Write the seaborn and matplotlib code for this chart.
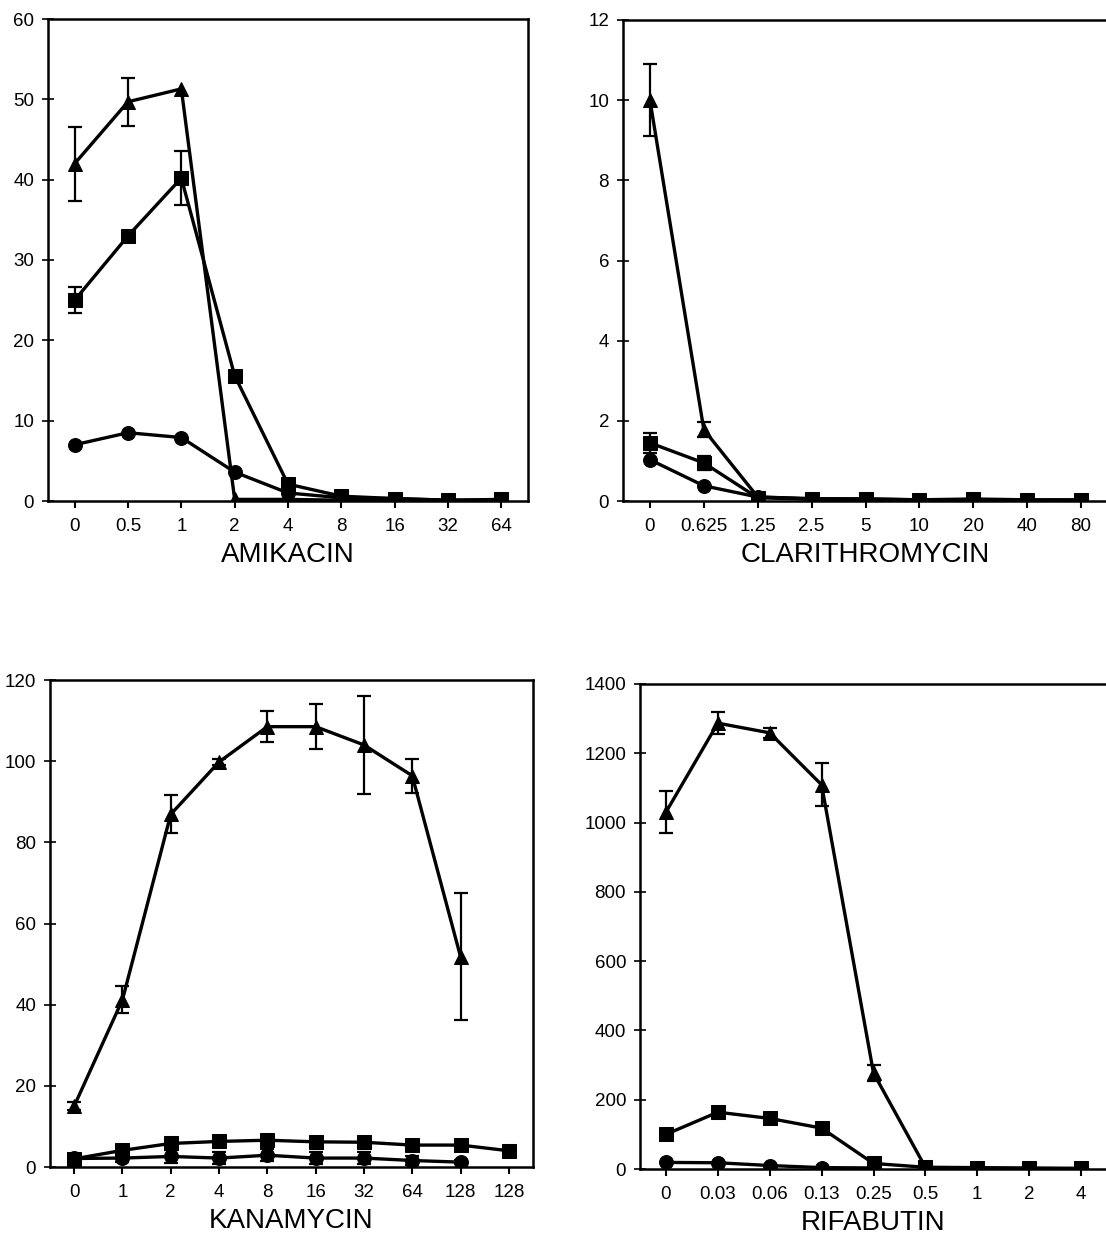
import numpy as np
import pandas as pd
import matplotlib.pyplot as plt
import seaborn as sns

# --- data ---
amikacin_doses = ["0", "0.5", "1", "2", "4", "8", "16", "32", "64"]
amikacin_tri = [42.0, 49.7, 51.3, 0.2, 0.2, 0.1, 0.1, 0.05, 0.05]
amikacin_tri_err = [4.6, 3.0, 0, 0, 0, 0, 0, 0, 0]
amikacin_sq = [25.0, 33.0, 40.2, 15.6, 2.1, 0.6, 0.3, 0.1, 0.2]
amikacin_sq_err = [1.6, 0.6, 3.4, 0, 0, 0, 0, 0, 0]
amikacin_ci = [7.0, 8.5, 7.9, 3.6, 1.0, 0.4, 0.3, 0.1, 0.1]
amikacin_ci_err = [0, 0, 0, 0, 0, 0, 0, 0, 0]

clari_doses = ["0", "0.625", "1.25", "2.5", "5", "10", "20", "40", "80"]
clari_tri = [10.0, 1.78, 0.1, 0.05, 0.05, 0.03, 0.03, 0.02, 0.02]
clari_tri_err = [0.9, 0.18, 0, 0, 0, 0, 0, 0, 0]
clari_sq = [1.45, 0.95, 0.08, 0.05, 0.05, 0.03, 0.05, 0.03, 0.02]
clari_sq_err = [0.25, 0.18, 0, 0, 0, 0, 0, 0, 0]
clari_ci = [1.03, 0.38, 0.1, 0.06, 0.04, 0.03, 0.03, 0.02, 0.03]
clari_ci_err = [0, 0, 0, 0, 0, 0, 0, 0, 0]

kana_doses = ["0", "1", "2", "4", "8", "16", "32", "64", "128", "128"]
kana_tri = [15.0, 41.2, 86.9, 99.8, 108.5, 108.5, 104.0, 96.4, 51.8, np.nan]
kana_tri_err = [1.0, 3.3, 4.7, 0.8, 3.8, 5.5, 12.0, 4.2, 15.6, 0]
kana_sq = [2.0, 4.1, 5.8, 6.3, 6.6, 6.2, 6.1, 5.4, 5.4, 4.0]
kana_sq_err = [0, 0, 0, 0, 0, 0, 0, 0, 0, 0]
kana_ci = [2.1, 2.2, 2.6, 2.2, 2.9, 2.2, 2.2, 1.6, 1.2, np.nan]
kana_ci_err = [0.5, 1.0, 1.5, 1.5, 1.5, 1.5, 1.5, 1.0, 0.5, 0]

rifa_doses = ["0", "0.03", "0.06", "0.13", "0.25", "0.5", "1", "2", "4"]
rifa_tri = [1030, 1287, 1259, 1109, 277, 5, np.nan, np.nan, np.nan]
rifa_tri_err = [60, 32, 14, 62, 22, 0, 0, 0, 0]
rifa_sq = [100, 164, 146, 118, 16, 5, 4, 3, 2]
rifa_sq_err = [0, 0, 0, 0, 0, 0, 0, 0, 0]
rifa_ci = [19, 18, 10, 4, 3, np.nan, np.nan, np.nan, np.nan]
rifa_ci_err = [0, 0, 0, 0, 0, 0, 0, 0, 0]

panels = [
    ("AMIKACIN", amikacin_doses, [amikacin_tri, amikacin_sq, amikacin_ci],
     [amikacin_tri_err, amikacin_sq_err, amikacin_ci_err], 60, 10,
     (48, 528, 19, 501)),
    ("CLARITHROMYCIN", clari_doses, [clari_tri, clari_sq, clari_ci],
     [clari_tri_err, clari_sq_err, clari_ci_err], 12, 2,
     (623, 1108, 20, 501)),
    ("KANAMYCIN", kana_doses, [kana_tri, kana_sq, kana_ci],
     [kana_tri_err, kana_sq_err, kana_ci_err], 120, 20,
     (50, 533, 680, 1167)),
    ("RIFABUTIN", rifa_doses, [rifa_tri, rifa_sq, rifa_ci],
     [rifa_tri_err, rifa_sq_err, rifa_ci_err], 1400, 200,
     (640, 1107, 684, 1169)),
]
series_names = ["tri", "sq", "ci"]
marker_map = {"tri": "^", "sq": "s", "ci": "o"}

sns.set_style("ticks")
plt.rcParams["font.family"] = ["Liberation Sans", "DejaVu Sans"]

W, H = 1106, 1234
fig = plt.figure(figsize=(W / 100, H / 100), dpi=100)

for name, doses, vals, errs, ymax, ystep, (l, r, t, b) in panels:
    ax = fig.add_axes([l / W, 1 - b / H, (r - l) / W, (b - t) / H])
    pos = np.arange(len(doses))
    rows = []
    for s, v in zip(series_names, vals):
        for p, y in zip(pos, v):
            rows.append({"pos": p, "value": y, "series": s})
    df = pd.DataFrame(rows).dropna()

    sns.lineplot(data=df, x="pos", y="value", style="series", markers=marker_map,
                 dashes=False, color="black", linewidth=2.4, markersize=10,
                 markeredgecolor="black", errorbar=None, legend=False,
                 estimator=None, sort=True, ax=ax)
    for v, e in zip(vals, errs):
        v = np.asarray(v, dtype=float)
        e = np.asarray(e, dtype=float)
        m = (e > 0) & ~np.isnan(v)
        ax.errorbar(pos[m], v[m], yerr=e[m], fmt="none", ecolor="black",
                    elinewidth=1.6, capsize=5, capthick=1.6)

    ax.set_xlim(-0.5, len(doses) - 0.5)
    ax.set_ylim(0, ymax)
    ax.set_yticks(np.arange(0, ymax + ystep, ystep))
    ax.set_xticks(pos)
    ax.set_xticklabels(doses)
    ax.set_xlabel(name, fontsize=20, labelpad=5, color="black")
    ax.set_ylabel("")
    for sp in ax.spines.values():
        sp.set_linewidth(1.8)
        sp.set_color("black")
    ax.tick_params(axis="x", direction="out", length=5, width=1.5,
                   labelsize=13.5, pad=7, colors="black")
    ax.tick_params(axis="y", direction="inout", length=8, width=1.2,
                   labelsize=13.5, pad=6, colors="black")

fig.savefig("out.png", dpi=100)
